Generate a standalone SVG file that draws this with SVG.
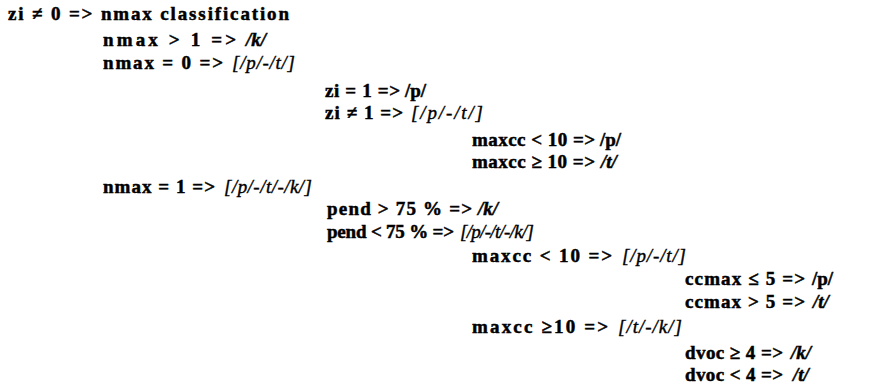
<svg xmlns="http://www.w3.org/2000/svg" width="869" height="384" viewBox="0 0 869 384">
<style>
text{font-family:"Liberation Serif","Times New Roman",serif;font-size:19px;font-weight:bold;fill:#000;stroke:#000;stroke-width:0.5px}
.ph{font-style:italic}
.rg{font-style:italic;font-weight:normal;stroke-width:0.4px}
</style>
<rect width="869" height="384" fill="#fff"/>
<g id="n1"><text x="8" y="20" textLength="281" lengthAdjust="spacing">zi ≠ 0 =&gt; nmax classification</text></g>
<g id="n2"><text x="103" y="46" textLength="133" lengthAdjust="spacing">nmax &gt; 1 =&gt;</text><text class="ph" x="246" y="46">/k/</text></g>
<g id="n3"><text x="103" y="69" textLength="120" lengthAdjust="spacing">nmax = 0 =&gt;</text><text class="rg" x="232" y="69" textLength="63" lengthAdjust="spacing">[/p/-/t/]</text></g>
<g id="n4"><text x="325" y="97" textLength="75" lengthAdjust="spacing">zi = 1 =&gt;</text><text x="405" y="97">/p/</text></g>
<g id="n5"><text x="325" y="119" textLength="78" lengthAdjust="spacing">zi ≠ 1 =&gt;</text><text class="rg" x="411" y="119" textLength="72" lengthAdjust="spacing">[/p/-/t/]</text></g>
<g id="n6"><text x="472" y="146" textLength="123" lengthAdjust="spacing">maxcc &lt; 10 =&gt;</text><text x="600" y="146">/p/</text></g>
<g id="n7"><text x="472" y="168" textLength="123" lengthAdjust="spacing">maxcc ≥ 10 =&gt;</text><text class="ph" x="601" y="168">/t/</text></g>
<g id="n8"><text x="103" y="193" textLength="112" lengthAdjust="spacing">nmax = 1 =&gt;</text><text class="rg" x="224" y="193" textLength="88" lengthAdjust="spacing">[/p/-/t/-/k/]</text></g>
<g id="n9"><text x="327" y="215" textLength="145" lengthAdjust="spacing">pend &gt; 75 % =&gt;</text><text class="ph" x="478" y="215">/k/</text></g>
<g id="n10"><text x="327" y="238" textLength="127" lengthAdjust="spacing">pend &lt; 75 % =&gt;</text><text class="rg" x="460" y="238" textLength="74" lengthAdjust="spacing">[/p/-/t/-/k/]</text></g>
<g id="n11"><text x="472" y="262" textLength="140" lengthAdjust="spacing">maxcc &lt; 10 =&gt;</text><text class="rg" x="622" y="262" textLength="64" lengthAdjust="spacing">[/p/-/t/]</text></g>
<g id="n12"><text x="685" y="285" textLength="120" lengthAdjust="spacing">ccmax ≤ 5 =&gt;</text><text x="812" y="285">/p/</text></g>
<g id="n13"><text x="685" y="308" textLength="120" lengthAdjust="spacing">ccmax &gt; 5 =&gt;</text><text class="ph" x="813" y="308">/t/</text></g>
<g id="n14"><text x="472" y="333" textLength="136" lengthAdjust="spacing">maxcc ≥10 =&gt;</text><text class="rg" x="618" y="333" textLength="64" lengthAdjust="spacing">[/t/-/k/]</text></g>
<g id="n15"><text x="685" y="359" textLength="98" lengthAdjust="spacing">dvoc ≥ 4 =&gt;</text><text class="ph" x="791" y="359">/k/</text></g>
<g id="n16"><text x="685" y="381" textLength="98" lengthAdjust="spacing">dvoc &lt; 4 =&gt;</text><text class="ph" x="793" y="381">/t/</text></g>
<g id="connectors"></g>
</svg>
